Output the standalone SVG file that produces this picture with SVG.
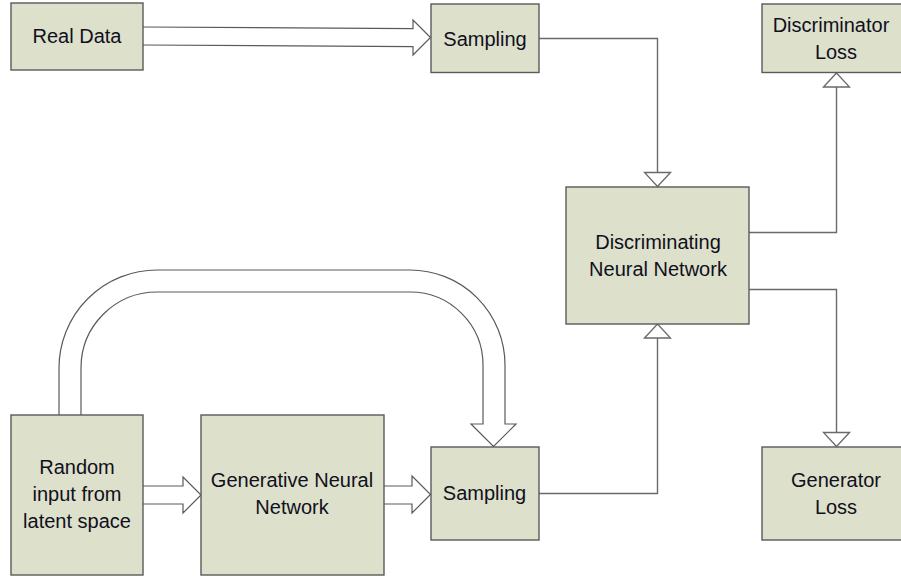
<svg xmlns="http://www.w3.org/2000/svg" width="901" height="576" viewBox="0 0 901 576">
  <style>
    .box { fill: #dde0cb; stroke: #5a5a5a; stroke-width: 1.4; }
    .lbl { font-family: "Liberation Sans", Arial, sans-serif; font-size: 20px; fill: #10101c; text-anchor: middle; }
    .wire { fill: none; stroke: #6a6a6a; stroke-width: 1.4; }
    .block { fill: #ffffff; stroke: #5a5a5a; stroke-width: 1.2; stroke-linejoin: miter; }
  </style>
  <defs>
    <marker id="hollow" viewBox="0 0 14 26" refX="14" refY="13" markerWidth="14" markerHeight="26" markerUnits="userSpaceOnUse" orient="auto" overflow="visible">
      <path d="M0,0 L14,13 L0,26 Z" fill="#ffffff" stroke="#6a6a6a" stroke-width="1.3"/>
    </marker>
  </defs>
  <rect width="901" height="576" fill="#ffffff"/>

  <!-- thin connectors and wide block arrows -->
  <g id="connectors">
    <path class="wire" d="M539,38.5 H657.5 V186.5" marker-end="url(#hollow)"/>
    <path class="wire" d="M539,493.5 H657.5 V324" marker-end="url(#hollow)"/>
    <path class="wire" d="M749,232.5 H836.5 V73" marker-end="url(#hollow)"/>
    <path class="wire" d="M749,289.5 H836.5 V446.5" marker-end="url(#hollow)"/>

    <path class="block" d="M143,27 L413,28.7 L413,20 L430.5,37.5 L413,55 L413,46.7 L143,45"/>
    <path class="block" d="M143,486 H183 V477 L201,495 L183,513 V504 H143"/>
    <path class="block" d="M384,486 H412 V476 L430.5,494.5 L412,513 V504 H384"/>
    <path class="block" d="M59,415 V368 A98,98 0 0 1 157,270 H410 A95,95 0 0 1 505,365 V424 H516 L493.5,446.5 L471,424 H483 V365 A73,73 0 0 0 410,292 H157 A76,76 0 0 0 81,368 V415"/>
  </g>

  <g id="real-data">
    <rect class="box" x="11" y="3" width="132" height="67"/>
    <text class="lbl" x="77" y="42.5">Real Data</text>
  </g>

  <g id="sampling-real">
    <rect class="box" x="431" y="4" width="108" height="68.5"/>
    <text class="lbl" x="485" y="45.5">Sampling</text>
  </g>

  <g id="discriminator-loss">
    <rect class="box" x="762" y="4" width="150" height="68.5"/>
    <text class="lbl" x="831" y="31.5">Discriminator</text>
    <text class="lbl" x="836" y="58.5">Loss</text>
  </g>

  <g id="discriminating-network">
    <rect class="box" x="566" y="187" width="183" height="137"/>
    <text class="lbl" x="658" y="248.5">Discriminating</text>
    <text class="lbl" x="658" y="275.5">Neural Network</text>
  </g>

  <g id="random-input">
    <rect class="box" x="11" y="415" width="132" height="160"/>
    <text class="lbl" x="77" y="474">Random</text>
    <text class="lbl" x="77" y="501">input from</text>
    <text class="lbl" x="77" y="528">latent space</text>
  </g>

  <g id="generative-network">
    <rect class="box" x="201" y="415" width="183" height="160"/>
    <text class="lbl" x="292" y="487">Generative Neural</text>
    <text class="lbl" x="292" y="514">Network</text>
  </g>

  <g id="sampling-generated">
    <rect class="box" x="431" y="447" width="108" height="93"/>
    <text class="lbl" x="484.5" y="500">Sampling</text>
  </g>

  <g id="generator-loss">
    <rect class="box" x="762" y="447" width="150" height="93"/>
    <text class="lbl" x="836" y="487">Generator</text>
    <text class="lbl" x="836" y="513.5">Loss</text>
  </g>
</svg>
